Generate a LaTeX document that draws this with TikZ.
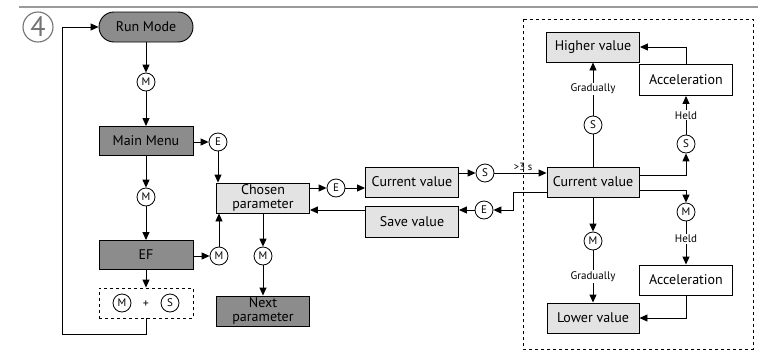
\documentclass[tikz,border=0pt]{standalone}
\usepackage{fontspec}
\setmainfont{PT Sans}
\usetikzlibrary{arrows.meta,calc}
\definecolor{darkbox}{HTML}{8C8C8C}
\definecolor{lightbox}{HTML}{E3E3E3}
\definecolor{rulegray}{HTML}{9A9A9A}
\tikzset{
  box/.style={draw=black,line width=0.9pt,minimum width=93pt,minimum height=30pt,inner sep=0.5pt,align=center,font=\fontsize{14}{14.5}\selectfont},
  dark/.style={box,fill=darkbox},
  light/.style={box,fill=lightbox},
  white/.style={box,fill=white},
  key/.style={draw=black,circle,line width=0.8pt,minimum size=18pt,inner sep=0pt,fill=white,font=\fontsize{11}{10}\selectfont},
  lab/.style={fill=white,inner sep=1pt,font=\fontsize{11}{11}\selectfont},
  conn/.style={line width=0.9pt,-{Triangle[length=8pt,width=7pt]}},
  plain/.style={line width=0.9pt},
}
\begin{document}
\begin{tikzpicture}[x=1pt,y=-1pt]
\useasboundingbox (0,0) rectangle (773,351);
% header
\draw[rulegray,line width=1.2pt] (19,7) -- (758,7);
\node[draw=gray!90!black,circle,line width=1.1pt,minimum size=30pt,inner sep=0pt,text=gray!90!black,font=\fontsize{28}{28}\selectfont] (four) at (38,27) {4};
% left column
\node[dark,rounded corners=15pt,minimum width=94pt] (run) at (146,27) {Run Mode};
\node[key] (m1) at (146,82) {M};
\node[dark,minimum width=94pt,minimum height=29pt] (mainmenu) at (146,141) {Main Menu};
\node[key] (e1) at (218,142) {E};
\node[key] (m2) at (146,197) {M};
\node[dark,minimum width=94pt,minimum height=29pt] (ef) at (146,255) {EF};
\node[key] (m3) at (219,256) {M};
\node[draw=black,dashed,line width=0.9pt,minimum width=94pt,minimum height=30pt] (combo) at (146,303) {};
\node[key] (mm) at (122,303) {M};
\node[font=\fontsize{12}{12}\selectfont] (plus) at (146,304) {+};
\node[key] (ss) at (170,303) {S};
\node[light] (chosen) at (263,198) {Chosen\\parameter};
\node[key] (m4) at (263,256) {M};
\node[dark] (next) at (263,311) {Next\\parameter};
% middle
\node[key] (e2) at (336,188) {E};
\node[light] (cur1) at (412,182) {Current value};
\node[key] (s1) at (485,173) {S};
\node[light,minimum height=31pt] (save) at (412,222) {Save value};
\node[key] (e3) at (484,210) {E};
% right panel
\draw[dashed,line width=0.9pt] (523,19) rectangle (753,349);
\node[light,minimum width=92pt] (cur2) at (593,182) {Current value};
\node[key] (s2) at (593,125) {S};
\node[light] (higher) at (593,47) {Higher value};
\node[white,minimum height=31pt] (acc1) at (686,80) {Acceleration};
\node[key] (s3) at (686,144) {S};
\node[key] (m5) at (686,212) {M};
\node[white] (acc2) at (686,280) {Acceleration};
\node[key] (m6) at (593,241) {M};
\node[light,minimum width=92pt] (lower) at (593,318) {Lower value};
% connectors left
\draw[conn] (run) -- (m1);
\draw[conn] (m1) -- (mainmenu);
\draw[conn] (mainmenu.east |- e1) -- (e1);
\draw[conn] (e1) -- (e1 |- chosen.north);
\draw[conn] (mainmenu) -- (m2);
\draw[conn] (m2) -- (ef);
\draw[conn] (ef.east |- m3) -- (m3);
\draw[conn] (m3) -- (m3 |- chosen.south);
\draw[conn] (chosen) -- (m4);
\draw[conn] (m4) -- (next);
\draw[conn] (ef) -- (combo);
\coordinate (loopa) at (146,334);
\coordinate (loopb) at (62,334);
\coordinate (loopc) at (62,27);
\draw[conn] (combo.south) -- (loopa) -- (loopb) -- (loopc) -- (run.west);
% middle connectors
\draw[conn] (chosen.east |- e2) -- (e2);
\draw[conn] (e2) -- (cur1.west |- e2);
\draw[conn] (cur1.east |- s1) -- (s1);
\draw[conn] (s1) -- node[pos=0.55,above=1pt,inner sep=1pt,font=\fontsize{10.5}{10}\selectfont] {>3 s} (cur2.west |- s1);
\coordinate (ret1) at (513,192);
\coordinate (ret2) at (513,210);
\draw[conn] (cur2.west |- ret1) -- (ret1) -- (ret2) -- (e3);
\draw[conn] (e3) -- (save.east |- e3);
\draw[conn] (save.west |- e3) -- (chosen.east |- e3);
% right connectors
\draw[plain] (cur2) -- (s2);
\draw[conn] (s2) -- node[lab,pos=0.5] {Gradually} (higher);
\coordinate (up1) at (686,175);
\draw[conn] (cur2.east |- up1) -- (up1) -- (s3);
\draw[conn] (s3) -- node[lab,pos=0.5] {Held} (acc1);
\coordinate (up2) at (686,47);
\draw[conn] (acc1.north) -- (up2) -- (higher.east);
\coordinate (dn1) at (686,190);
\draw[conn] (cur2.east |- dn1) -- (dn1) -- (m5);
\draw[conn] (m5) -- node[lab,pos=0.4] {Held} (acc2);
\coordinate (dn2) at (686,318);
\draw[conn] (acc2.south) -- (dn2) -- (lower.east);
\draw[conn] (cur2) -- (m6);
\draw[conn] (m6) -- node[lab,pos=0.5] {Gradually} (lower);
\end{tikzpicture}
\end{document}
